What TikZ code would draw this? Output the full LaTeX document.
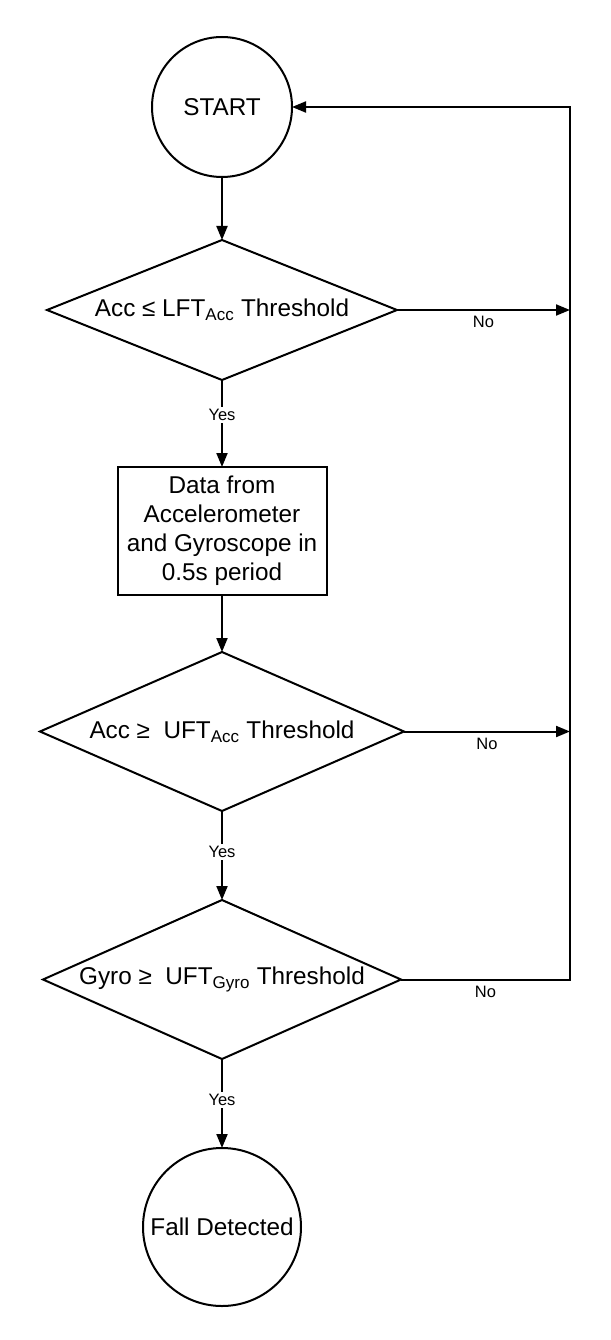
\documentclass[tikz,border=0pt]{standalone}
\usepackage{fontspec}
\setmainfont{Liberation Sans}
\usetikzlibrary{positioning,shapes.geometric,arrows.meta}

\tikzset{
  flow/.style={draw, line width=2pt, outer sep=0pt, font=\fontsize{24.3}{29}\selectfont},
  terminal/.style={flow, circle, inner sep=0pt},
  decision/.style={flow, diamond, aspect=2.5, inner sep=0pt},
  process/.style={flow, rectangle, align=center, minimum width=209pt, minimum height=128pt, inner sep=0pt},
  link/.style={line width=2pt, -{Triangle[length=14pt,width=11pt]}},
  answer/.style={font=\fontsize{16.5}{20}\selectfont, fill=white, inner sep=2pt},
  nolabel/.style={font=\fontsize{16.5}{20}\selectfont, below=2pt},
}

\begin{document}
\begin{tikzpicture}
	\useasboundingbox (0,0) rectangle (610pt,-1340pt);
	
	\node[terminal, minimum size=140pt] (start) at (222pt,-107pt) {START};
	\node[decision, minimum width=350pt, minimum height=140pt, below=63pt of start] (acclow) {Acc ≤ LFT\textsubscript{Acc} Threshold};
	\node[process, below=87pt of acclow] (data) {Data from\\Accelerometer\\and Gyroscope in\\0.5s period};
	\node[decision, minimum width=364pt, minimum height=159pt, below=57pt of data] (acchigh) {Acc ≥\ \ UFT\textsubscript{Acc} Threshold};
	\node[decision, minimum width=358pt, minimum height=159pt, below=89pt of acchigh] (gyro) {Gyro ≥\ \ UFT\textsubscript{Gyro} Threshold};
	\node[terminal, minimum size=158pt, below=89pt of gyro] (fall) {Fall Detected};
	
	% return rail on the right
	\coordinate[right=278pt of start.east] (rail);
	
	\draw[link] (start) -- (acclow);
	\draw[link] (acclow) -- node[answer, pos=0.4] {Yes} (data);
	\draw[link] (data) -- (acchigh);
	\draw[link] (acchigh) -- node[answer, pos=0.46] {Yes} (gyro);
	\draw[link] (gyro) -- node[answer, pos=0.46] {Yes} (fall);
	
	\draw[link] (acclow.east) -- node[nolabel] {No} (acclow.east -| rail);
	\draw[link] (acchigh.east) -- node[nolabel] {No} (acchigh.east -| rail);
	\draw[link] (gyro.east) -- node[nolabel] {No} (gyro.east -| rail) -- (rail) -- (start.east);
\end{tikzpicture}
\end{document}
